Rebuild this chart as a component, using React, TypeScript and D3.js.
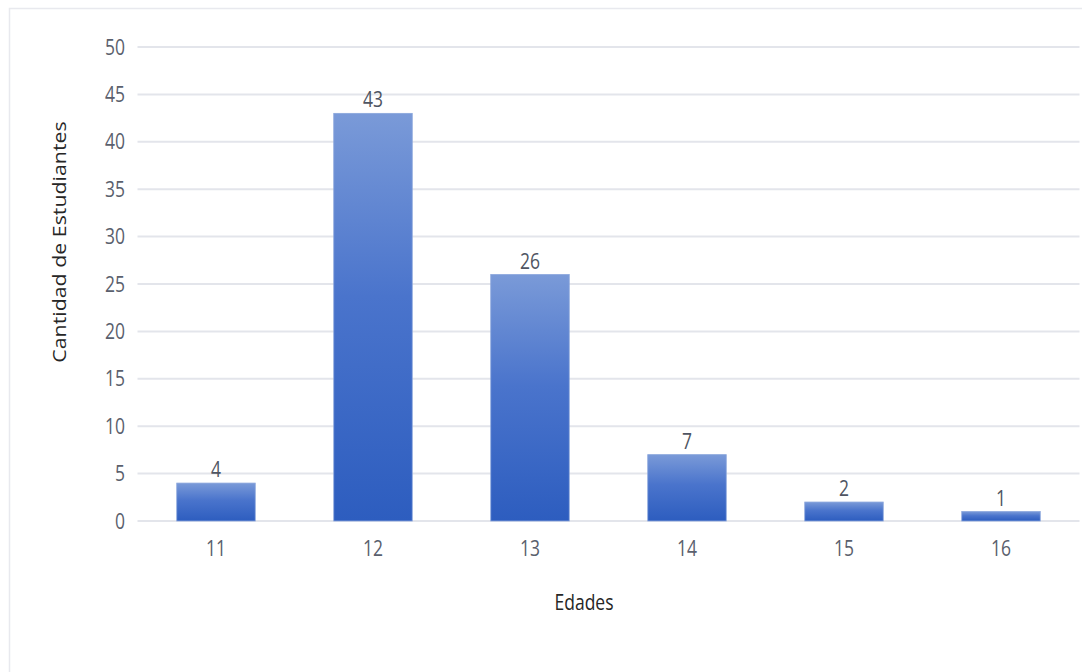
import React, { useEffect, useRef } from "react";
import * as d3 from "d3";

const ages = ["11", "12", "13", "14", "15", "16"];
const students = [4, 43, 26, 7, 2, 1];
const yTicks = [0, 5, 10, 15, 20, 25, 30, 35, 40, 45, 50];

const W = 1082;
const H = 672;
const FONT = "Open Sans, Noto Sans, sans-serif";
const SY = 1.22; // text glyphs are drawn slightly taller than wide

export default function App() {
  const ref = useRef<SVGSVGElement | null>(null);

  useEffect(() => {
    const svg = d3.select(ref.current);
    svg.selectAll("*").remove();

    const x0 = 137.5, x1 = 1079.5, yTop = 47, yBot = 521;
    const x = d3.scaleBand<string>().domain(ages).range([x0, x1]).paddingInner(0.5).paddingOuter(0.25);
    const y = d3.scaleLinear().domain([0, 50]).range([yBot, yTop]);

    const defs = svg.append("defs");
    const grad = defs.append("linearGradient").attr("id", "barGrad")
      .attr("x1", 0).attr("y1", 0).attr("x2", 0).attr("y2", 1);
    grad.append("stop").attr("offset", "0%").attr("stop-color", "#7a9ad8");
    grad.append("stop").attr("offset", "45%").attr("stop-color", "#4a74cc");
    grad.append("stop").attr("offset", "100%").attr("stop-color", "#2d5dbf");

    // outer frame
    svg.append("rect").attr("x", 9.5).attr("y", 8.5).attr("width", W + 20).attr("height", H + 20)
      .attr("fill", "#fff").attr("stroke", "#e8e9ee").attr("stroke-width", 1.5);

    // gridlines
    svg.append("g").selectAll("line").data(yTicks).join("line")
      .attr("x1", x0).attr("x2", x1)
      .attr("y1", (d) => y(d)).attr("y2", (d) => y(d))
      .attr("stroke", "#e3e5eb").attr("stroke-width", 2);

    const txt = (sel: any) =>
      sel.attr("font-family", FONT).attr("font-size", 17.5);

    // y tick labels
    svg.append("g").selectAll("text").data(yTicks).join("text")
      .attr("transform", (d) => `translate(125,${y(d)}) scale(1,${SY})`)
      .attr("dy", "0.36em")
      .attr("text-anchor", "end").call(txt)
      .attr("fill", "#5a606d").text((d) => d);

    // bars
    svg.append("g").selectAll("rect").data(students).join("rect")
      .attr("x", (_, i) => x(ages[i])!)
      .attr("width", x.bandwidth())
      .attr("y", (d) => y(d))
      .attr("height", (d) => y(0) - y(d))
      .attr("fill", "url(#barGrad)")
      .attr("stroke", "#8aa6dc").attr("stroke-width", 0.8);

    // value labels
    svg.append("g").selectAll("text").data(students).join("text")
      .attr("transform", (d, i) => `translate(${x(ages[i])! + x.bandwidth() / 2},${y(d) - 6}) scale(1,${SY})`)
      .attr("text-anchor", "middle").call(txt)
      .attr("fill", "#4f5562").text((d) => d);

    // x tick labels
    svg.append("g").selectAll("text").data(ages).join("text")
      .attr("transform", (d) => `translate(${x(d)! + x.bandwidth() / 2},556) scale(1,${SY})`)
      .attr("text-anchor", "middle").call(txt)
      .attr("fill", "#5a606d").text((d) => d);

    // axis titles
    svg.append("text").attr("transform", `translate(584,610) scale(1,${SY})`).attr("text-anchor", "middle")
      .call(txt).attr("fill", "#262626").text("Edades");
    svg.append("text").attr("transform", `translate(66,242) scale(1,${SY}) rotate(-90)`).attr("text-anchor", "middle")
      .call(txt).attr("fill", "#262626").text("Cantidad de Estudiantes");
  }, []);

  return (
    <svg ref={ref} width={W} height={H}
      style={{ position: "absolute", left: 0, top: 0, background: "#fff" }} />
  );
}
